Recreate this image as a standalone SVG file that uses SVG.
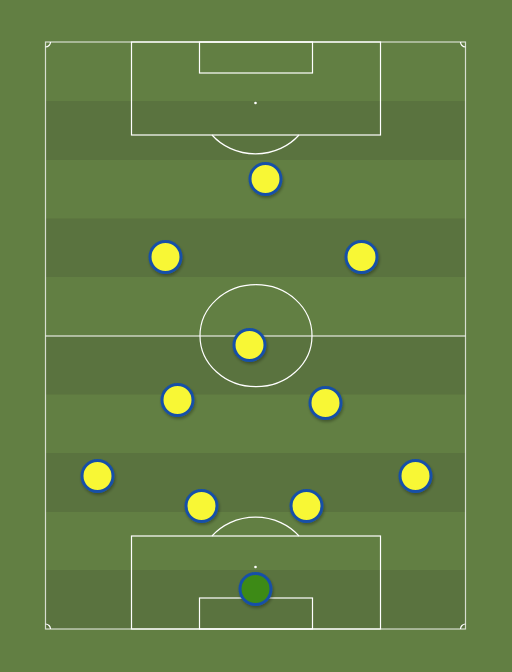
<svg xmlns="http://www.w3.org/2000/svg" width="512" height="672" viewBox="0 0 512 672">
<defs>
<filter id="sh" x="-30%" y="-30%" width="160%" height="160%">
<feDropShadow dx="1" dy="2" stdDeviation="1.5" flood-color="#000" flood-opacity="0.3"/>
</filter>
</defs>
<style>
.ln{fill:none;stroke:#ffffff;stroke-width:1.2}
.pl circle{fill:#f8f734;stroke:#1550a8;stroke-width:3;filter:url(#sh)}
.gk circle{fill:#3d8a17;stroke:#1550a8;stroke-width:3;filter:url(#sh)}
</style>
<rect width="512" height="672" fill="#627f43"/>
<g id="stripes" fill="#5a733f">
<rect x="45.5" y="101" width="420" height="59"/>
<rect x="45.5" y="218.5" width="420" height="58.5"/>
<rect x="45.5" y="336" width="420" height="58.5"/>
<rect x="45.5" y="453" width="420" height="59"/>
<rect x="45.5" y="570" width="420" height="59"/>
</g>
<g id="pitch" class="ln">
<rect x="45.5" y="42" width="420" height="587" stroke-opacity="0.75"/>
<line x1="45.5" y1="336" x2="465.5" y2="336"/>
<ellipse cx="256" cy="335.7" rx="56" ry="51"/>
<rect x="131.5" y="42" width="249" height="93"/>
<rect x="199.5" y="42" width="113" height="31"/>
<rect x="131.5" y="536" width="249" height="93"/>
<rect x="199.5" y="598" width="113" height="31"/>
<path d="M212 135 A56 51 0 0 0 299 135"/>
<path d="M212 536 A56 51 0 0 1 299 536"/>
<path d="M45.5 47 A5 5 0 0 0 50.5 42"/>
<path d="M460.5 42 A5 5 0 0 0 465.5 47"/>
<path d="M45.5 624 A5 5 0 0 1 50.5 629"/>
<path d="M460.5 629 A5 5 0 0 1 465.5 624"/>
</g>
<g id="spots" fill="#ffffff">
<circle cx="255.5" cy="103" r="1.3"/>
<circle cx="255.5" cy="567" r="1.3"/>
</g>
<g id="connectors"></g>
<g id="p1" class="pl"><circle cx="265.5" cy="179" r="15.5"/></g>
<g id="p2" class="pl"><circle cx="165.5" cy="257" r="15.5"/></g>
<g id="p3" class="pl"><circle cx="361.5" cy="257" r="15.5"/></g>
<g id="p4" class="pl"><circle cx="249.5" cy="345" r="15.5"/></g>
<g id="p5" class="pl"><circle cx="177.5" cy="400" r="15.5"/></g>
<g id="p6" class="pl"><circle cx="325.5" cy="403" r="15.5"/></g>
<g id="p7" class="pl"><circle cx="97.5" cy="476" r="15.5"/></g>
<g id="p8" class="pl"><circle cx="415.5" cy="476" r="15.5"/></g>
<g id="p9" class="pl"><circle cx="201.5" cy="506" r="15.5"/></g>
<g id="p10" class="pl"><circle cx="306.5" cy="506" r="15.5"/></g>
<g id="gk" class="gk"><circle cx="255.5" cy="589" r="15.5"/></g>
</svg>
